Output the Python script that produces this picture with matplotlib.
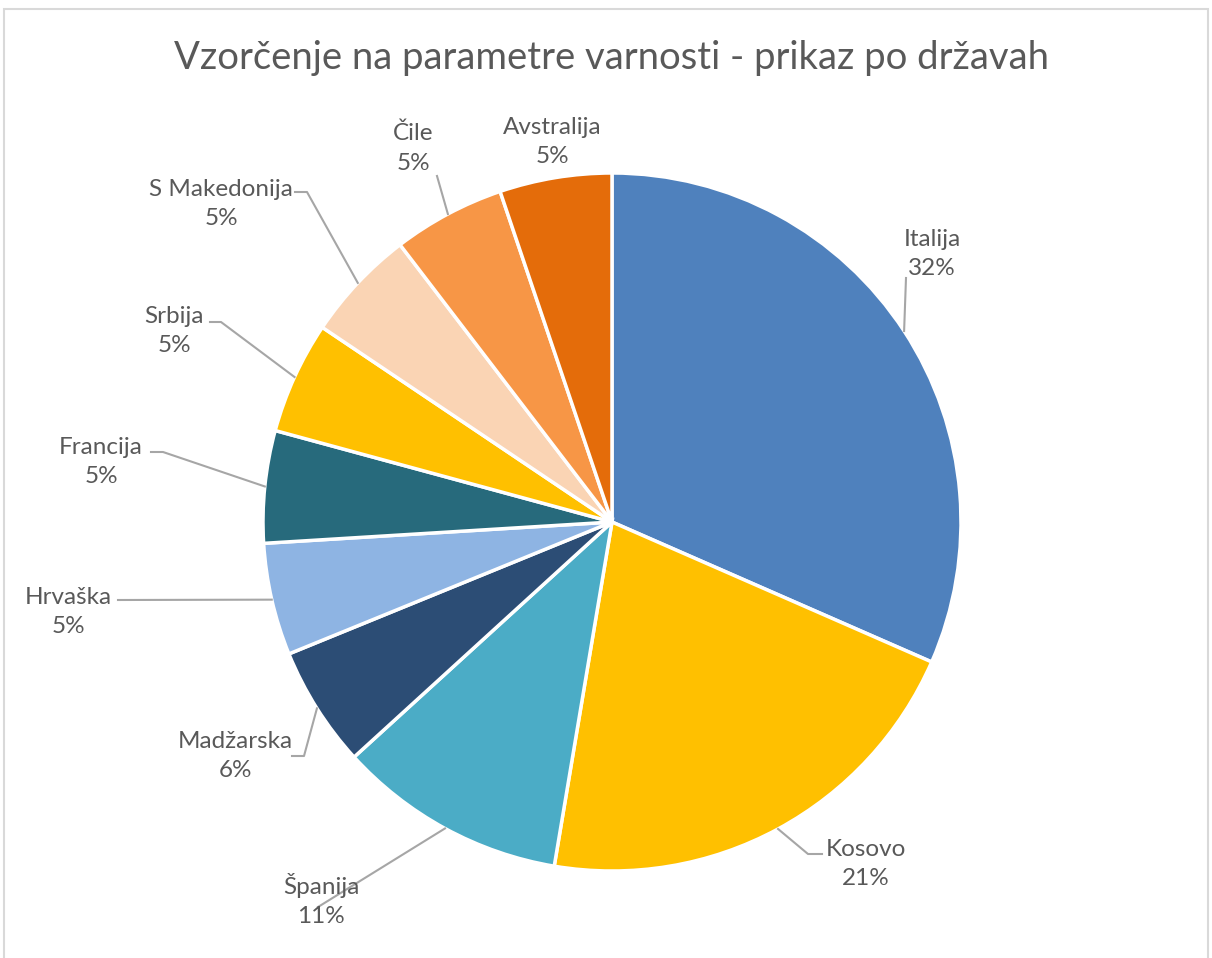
import numpy as np
import matplotlib.pyplot as plt
from matplotlib.patches import Rectangle

plt.rcParams['font.family'] = ['Lato', 'DejaVu Sans']

# share of samples per country (percent)
countries = ['Italija', 'Kosovo', 'Španija', 'Madžarska', 'Hrvaška',
             'Francija', 'Srbija', 'S Makedonija', 'Čile', 'Avstralija']
shares = [31.6, 21.1, 10.6, 5.6, 5.2, 5.2, 5.2, 5.2, 5.2, 5.2]
colors = ['#4F81BD', '#FFC000', '#4BACC6', '#2C4D75', '#8EB4E3',
          '#276A7C', '#FFC000', '#FAD4B4', '#F79646', '#E46C0A']

W, H = 1212, 958
TEXT = '#595959'
LEADER = '#A6A6A6'

# label centres (px from top-left) and leader bend points
label_pos = [(932, 254), (866, 864), (321, 900), (235, 756), (68, 612),
             (101, 462), (174, 331), (221, 204), (413, 148), (552, 142)]
leader_bends = [
    [(906, 278)],
    [(808, 854), (822, 854)],
    [(318, 907)],
    [(304, 756), (292, 756)],
    [(118, 600)],
    [(163, 452), (151, 452)],
    [(221, 322), (210, 322)],
    [(307, 192), (295, 192)],
    [(437, 176)],
    [],
]

cx, cy, r = 612, 522, 349


def fy(y):
    return H - y


fig = plt.figure(figsize=(W / 100, H / 100), dpi=100)
ax = fig.add_axes([0, 0, 1, 1])

# outer chart frame
ax.add_patch(Rectangle((4, -10), W - 8, H - 5 + 10 - 4, fill=False,
                       edgecolor='#D9D9D9', linewidth=1.5))

wedges, _ = ax.pie(shares, colors=colors, startangle=90, counterclock=False,
                   center=(cx, fy(cy)), radius=r, frame=True,
                   wedgeprops=dict(edgecolor='white', linewidth=2.5))
ax.set_xlim(0, W)
ax.set_ylim(0, H)
ax.set_aspect('equal')
ax.axis('off')

total = sum(shares)
for w, name, val, (tx, ty), bends in zip(wedges, countries, shares,
                                        label_pos, leader_bends):
    mid = np.deg2rad((w.theta1 + w.theta2) / 2)
    px = cx + r * np.cos(mid)
    py = fy(cy) + r * np.sin(mid)
    if bends:
        xs = [px] + [b[0] for b in bends]
        ys = [py] + [fy(b[1]) for b in bends]
        ax.plot(xs, ys, color=LEADER, linewidth=1.5, zorder=3)
    pct = round(val / total * 100)
    ax.text(tx, fy(ty), f'{name}\n{pct}%', ha='center', va='center',
            fontsize=17.5, color=TEXT, linespacing=1.5, zorder=4)

ax.text(W / 2 + 6, fy(58), 'Vzorčenje na parametre varnosti - prikaz po državah',
        ha='center', va='center', fontsize=27.5, color=TEXT)

fig.savefig('out.png', dpi=100, facecolor='white')
